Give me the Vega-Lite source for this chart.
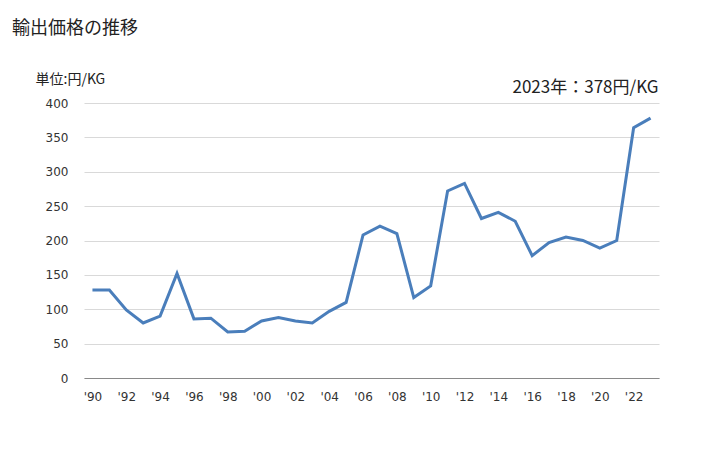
{
  "$schema": "https://vega.github.io/schema/vega-lite/v6.json",
  "width": 575,
  "height": 275,
  "autosize": "none",
  "padding": {"left": 84, "top": 103, "right": 69, "bottom": 72},
  "background": "white",
  "title": {
    "text": "輸出価格の推移",
    "anchor": "start",
    "frame": "group",
    "dx": -72,
    "offset": 34,
    "font": "Noto Sans CJK JP",
    "fontSize": 18,
    "fontWeight": "normal",
    "color": "#222222"
  },
  "data": {
    "values": [
      {"year": 1990, "price": 128},
      {"year": 1991, "price": 128},
      {"year": 1992, "price": 99},
      {"year": 1993, "price": 80},
      {"year": 1994, "price": 90},
      {"year": 1995, "price": 152},
      {"year": 1996, "price": 86},
      {"year": 1997, "price": 87},
      {"year": 1998, "price": 67},
      {"year": 1999, "price": 68},
      {"year": 2000, "price": 83},
      {"year": 2001, "price": 88},
      {"year": 2002, "price": 83},
      {"year": 2003, "price": 80},
      {"year": 2004, "price": 97},
      {"year": 2005, "price": 110},
      {"year": 2006, "price": 208},
      {"year": 2007, "price": 221},
      {"year": 2008, "price": 210},
      {"year": 2009, "price": 117},
      {"year": 2010, "price": 134},
      {"year": 2011, "price": 272},
      {"year": 2012, "price": 283},
      {"year": 2013, "price": 232},
      {"year": 2014, "price": 241},
      {"year": 2015, "price": 228},
      {"year": 2016, "price": 178},
      {"year": 2017, "price": 197},
      {"year": 2018, "price": 205},
      {"year": 2019, "price": 200},
      {"year": 2020, "price": 189},
      {"year": 2021, "price": 200},
      {"year": 2022, "price": 364},
      {"year": 2023, "price": 378}
    ]
  },
  "mark": {"type": "line", "color": "#4A7EBB", "strokeWidth": 3, "strokeJoin": "miter"},
  "encoding": {
    "x": {
      "field": "year",
      "type": "quantitative",
      "scale": {"domain": [1989.5, 2023.5], "nice": false, "zero": false},
      "axis": {
        "values": [1990, 1992, 1994, 1996, 1998, 2000, 2002, 2004, 2006, 2008, 2010, 2012, 2014, 2016, 2018, 2020, 2022],
        "labelExpr": "\"'\" + slice(toString(datum.value), 2)",
        "grid": false,
        "ticks": false,
        "domainColor": "#898989",
        "domainWidth": 1,
        "labelFont": "DejaVu Sans",
        "labelFontSize": 12,
        "labelColor": "#333333",
        "labelPadding": 13,
        "title": "2023年：378円/KG",
        "titleFont": "Noto Sans CJK JP",
        "titleFontSize": 17,
        "titleFontWeight": "normal",
        "titleColor": "#222222",
        "titleAnchor": "end",
        "titleAlign": "right",
        "titleBaseline": "middle",
        "titleX": 574,
        "titleY": -291
      }
    },
    "y": {
      "field": "price",
      "type": "quantitative",
      "scale": {"domain": [0, 400], "nice": false},
      "axis": {
        "values": [0, 50, 100, 150, 200, 250, 300, 350, 400],
        "grid": true,
        "gridColor": "#d9d9d9",
        "gridWidth": 1,
        "domain": false,
        "ticks": false,
        "labelFont": "DejaVu Sans",
        "labelFontSize": 12,
        "labelColor": "#333333",
        "labelPadding": 16,
        "title": "単位:円/KG",
        "titleFont": "Noto Sans CJK JP",
        "titleFontSize": 14,
        "titleFontWeight": "normal",
        "titleColor": "#222222",
        "titleAngle": 0,
        "titleAlign": "left",
        "titleBaseline": "middle",
        "titleX": -49,
        "titleY": -24
      }
    }
  },
  "config": {"view": {"stroke": null}}
}
